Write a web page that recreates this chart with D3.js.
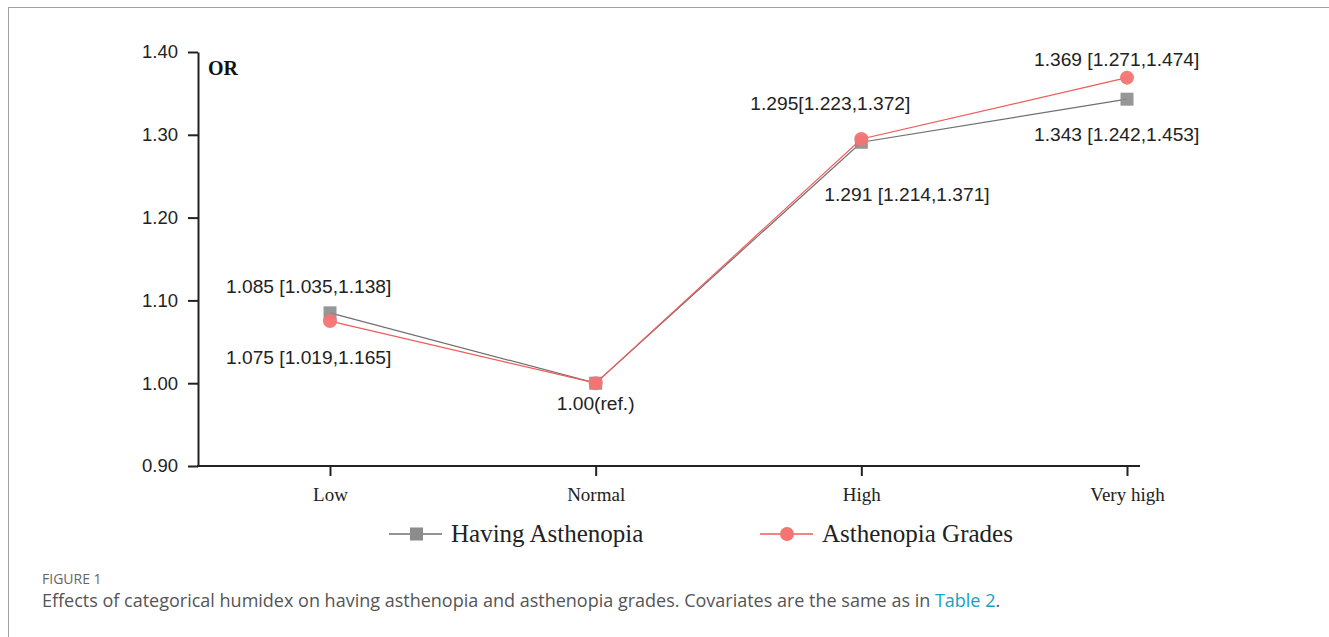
<!DOCTYPE html>
<html>
<head>
<meta charset="utf-8">
<script src="https://cdn.jsdelivr.net/npm/d3@7"></script>
<style>
  body { margin: 0; background: #fff; }
  svg { display: block; }
</style>
</head>
<body>
<svg id="chart"></svg>
<script>
const width = 1329;
const height = 637;

// data
const categories = ["Low", "Normal", "High", "Very high"];
const yTicks = [0.90, 1.00, 1.10, 1.20, 1.30, 1.40];
const havingValues = [1.085, 1.00, 1.291, 1.343];
const gradesValues = [1.075, 1.00, 1.295, 1.369];
const havingLabels = ["1.085 [1.035,1.138]", "", "1.291 [1.214,1.371]", "1.343 [1.242,1.453]"];
const gradesLabels = ["1.075 [1.019,1.165]", "1.00(ref.)", "1.295[1.223,1.372]", "1.369 [1.271,1.474]"];
const seriesNames = ["Having Asthenopia", "Asthenopia Grades"];

// label offsets relative to the point (layout, not data)
const havingDx = [-104, 0, -37, -93];
const havingDy = [-20, 0, 59, 42];
const gradesDx = [-104, 0, -111, -93];
const gradesDy = [43, 27, -29, -12];
const gradesAnchor = ["start", "middle", "start", "start"];

const svg = d3.select("#chart")
    .attr("width", width)
    .attr("height", height);

// outer frame
svg.append("rect")
    .attr("x", 8.5).attr("y", 7.5)
    .attr("width", width + 10).attr("height", height + 10)
    .attr("fill", "none")
    .attr("stroke", "#a0a0a0")
    .attr("stroke-width", 1);

const x = d3.scalePoint()
    .domain(categories)
    .range([330, 1127]);

const y = d3.scaleLinear()
    .domain([0.9, 1.4])
    .range([466, 52]);

const axisLeft = 198, axisRight = 1140;

// y axis
const yAxis = svg.append("g")
    .attr("transform", `translate(${axisLeft},0)`)
    .call(d3.axisLeft(y).tickValues(yTicks).tickFormat(d3.format(".2f")).tickSize(10).tickSizeOuter(0));
yAxis.select(".domain").attr("stroke", "#222").attr("stroke-width", 2);
yAxis.selectAll(".tick line").attr("stroke", "#222").attr("stroke-width", 2);
yAxis.selectAll(".tick text")
    .attr("x", -20)
    .attr("font-family", "Liberation Sans, Arial, sans-serif")
    .attr("font-size", 18.5)
    .attr("fill", "#222");

// x axis
svg.append("line")
    .attr("x1", axisLeft - 1).attr("x2", axisRight)
    .attr("y1", y(0.9)).attr("y2", y(0.9))
    .attr("stroke", "#222").attr("stroke-width", 2);
const xAxis = svg.append("g")
    .attr("transform", `translate(0,${y(0.9)})`)
    .call(d3.axisBottom(x).tickSize(10).tickSizeOuter(0));
xAxis.select(".domain").remove();
xAxis.selectAll(".tick line").attr("stroke", "#222").attr("stroke-width", 2);
xAxis.selectAll(".tick text")
    .attr("y", 22)
    .attr("font-family", "Liberation Serif, Times New Roman, serif")
    .attr("font-size", 19)
    .attr("fill", "#222");

svg.append("text")
    .attr("x", 208).attr("y", 75)
    .attr("font-family", "Liberation Serif, Times New Roman, serif")
    .attr("font-weight", "bold")
    .attr("font-size", 20)
    .attr("fill", "#111")
    .text("OR");

const line = d3.line()
    .x((d, i) => x(categories[i]))
    .y(d => y(d));

// having asthenopia (gray squares)
svg.append("path")
    .datum(havingValues)
    .attr("d", line)
    .attr("fill", "none")
    .attr("stroke", "#707070")
    .attr("stroke-width", 1.2);

svg.selectAll(".sq")
    .data(havingValues)
    .enter().append("rect")
    .attr("class", "sq")
    .attr("x", (d, i) => x(categories[i]) - 6.5)
    .attr("y", d => y(d) - 6.5)
    .attr("width", 13).attr("height", 13)
    .attr("fill", "#8c8c8c")
    .attr("opacity", 0.9);

// asthenopia grades (red circles)
svg.append("path")
    .datum(gradesValues)
    .attr("d", line)
    .attr("fill", "none")
    .attr("stroke", "#f25a5a")
    .attr("stroke-width", 1.2);

svg.selectAll(".dot")
    .data(gradesValues)
    .enter().append("circle")
    .attr("class", "dot")
    .attr("cx", (d, i) => x(categories[i]))
    .attr("cy", d => y(d))
    .attr("r", 7)
    .attr("fill", "#f47474")
    .attr("opacity", 0.95);

// value labels
const labelFont = "Liberation Sans, Arial, sans-serif";
const labelSize = 19.2;
svg.selectAll(".lab-h")
    .data(havingValues)
    .enter().append("text")
    .attr("class", "lab-h")
    .attr("x", (d, i) => x(categories[i]) + havingDx[i])
    .attr("y", (d, i) => y(d) + havingDy[i])
    .attr("font-family", labelFont)
    .attr("font-size", labelSize)
    .attr("fill", "#222")
    .text((d, i) => havingLabels[i]);

svg.selectAll(".lab-g")
    .data(gradesValues)
    .enter().append("text")
    .attr("class", "lab-g")
    .attr("x", (d, i) => x(categories[i]) + gradesDx[i])
    .attr("y", (d, i) => y(d) + gradesDy[i])
    .attr("text-anchor", (d, i) => gradesAnchor[i])
    .attr("font-family", labelFont)
    .attr("font-size", labelSize)
    .attr("fill", "#222")
    .text((d, i) => gradesLabels[i]);

// legend
const legend = svg.append("g").attr("transform", "translate(0,534)");
const legendX = [389, 760];
const legendColors = ["#707070", "#f25a5a"];

const item = legend.selectAll(".legend-item")
    .data(seriesNames)
    .enter().append("g")
    .attr("class", "legend-item")
    .attr("transform", (d, i) => `translate(${legendX[i]},0)`);

item.append("line")
    .attr("x1", 0).attr("x2", 53)
    .attr("y1", 0).attr("y2", 0)
    .attr("stroke", (d, i) => legendColors[i])
    .attr("stroke-width", 1.5);

item.filter((d, i) => i === 0).append("rect")
    .attr("x", 21).attr("y", -6.5)
    .attr("width", 13).attr("height", 13)
    .attr("fill", "#8c8c8c");

item.filter((d, i) => i === 1).append("circle")
    .attr("cx", 27).attr("cy", 0).attr("r", 7)
    .attr("fill", "#f47474");

item.append("text")
    .attr("x", 62).attr("y", 8)
    .attr("font-family", "Liberation Serif, Times New Roman, serif")
    .attr("font-size", 25)
    .attr("fill", "#222")
    .text(d => d);

// caption
svg.append("text")
    .attr("x", 42).attr("y", 584)
    .attr("font-family", "Open Sans, Noto Sans, sans-serif")
    .attr("font-size", 14)
    .attr("fill", "#666")
    .text("FIGURE 1");

const caption = svg.append("text")
    .attr("x", 42).attr("y", 607)
    .attr("font-family", "Open Sans, Noto Sans, sans-serif")
    .attr("font-size", 18)
    .attr("fill", "#555");
caption.append("tspan").text("Effects of categorical humidex on having asthenopia and asthenopia grades. Covariates are the same as in ");
caption.append("tspan").attr("fill", "#1a9ec2").text("Table 2");
caption.append("tspan").text(".");
</script>
</body>
</html>
